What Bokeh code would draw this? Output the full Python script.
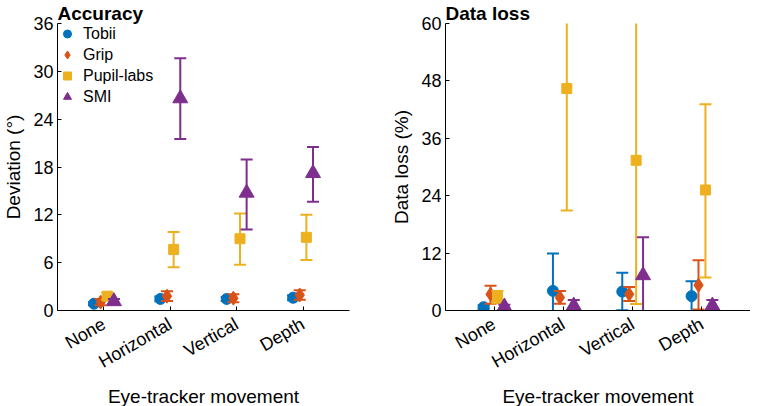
from bokeh.plotting import figure
from bokeh.layouts import row
from bokeh.models import ColumnDataSource, Range1d, FactorRange, FixedTicker, Title
from bokeh.transform import dodge
from bokeh.embed import file_html
from bokeh.resources import INLINE

# ---------------- data ----------------
movements = ["None", "Horizontal", "Vertical", "Depth"]
trackers = ["Tobii", "Grip", "Pupil-labs", "SMI"]
colors = ["#0072BD", "#D95319", "#EDB120", "#7E2F8E"]
markers = ["circle", "diamond", "square", "triangle"]
offsets = [-0.15, -0.05, 0.05, 0.15]

# Accuracy (deviation, deg): mean, lower CI, upper CI
acc_tobii = [0.85, 1.45, 1.45, 1.6]
acc_tobii_lo = [0.65, 1.15, 1.2, 1.3]
acc_tobii_hi = [1.05, 1.75, 1.7, 1.9]
acc_grip = [1.05, 1.8, 1.55, 1.95]
acc_grip_lo = [0.65, 1.2, 1.05, 1.35]
acc_grip_hi = [1.45, 2.4, 2.05, 2.55]
acc_pupil = [1.8, 7.66, 9.0, 9.18]
acc_pupil_lo = [1.35, 5.41, 5.74, 6.35]
acc_pupil_hi = [2.25, 9.84, 12.18, 12.0]
acc_smi = [1.15, 26.6, 14.76, 17.22]
acc_smi_lo = [0.85, 21.5, 10.17, 13.65]
acc_smi_hi = [1.45, 31.65, 18.95, 20.5]

# Data loss (%): mean, lower CI, upper CI
loss_tobii = [0.7, 4.1, 3.95, 3.0]
loss_tobii_lo = [0.3, -3.7, 0.05, -0.1]
loss_tobii_hi = [1.1, 11.9, 7.9, 6.1]
loss_grip = [3.4, 2.7, 3.4, 5.3]
loss_grip_lo = [1.4, 1.4, 2.0, 0.2]
loss_grip_hi = [5.2, 4.1, 4.9, 10.5]
loss_pupil = [2.8, 46.4, 31.4, 25.2]
loss_pupil_lo = [1.5, 20.9, 1.35, 6.9]
loss_pupil_hi = [4.1, 71.9, 61.5, 43.1]
loss_smi = [0.8, 1.0, 7.35, 1.0]
loss_smi_lo = [0.4, -0.2, -0.6, -0.2]
loss_smi_hi = [1.2, 2.2, 15.3, 2.2]

acc_ticks = [0, 6, 12, 18, 24, 30, 36]
loss_ticks = [0, 12, 24, 36, 48, 60]

acc_series = [(acc_tobii, acc_tobii_lo, acc_tobii_hi),
              (acc_grip, acc_grip_lo, acc_grip_hi),
              (acc_pupil, acc_pupil_lo, acc_pupil_hi),
              (acc_smi, acc_smi_lo, acc_smi_hi)]
loss_series = [(loss_tobii, loss_tobii_lo, loss_tobii_hi),
               (loss_grip, loss_grip_lo, loss_grip_hi),
               (loss_pupil, loss_pupil_lo, loss_pupil_hi),
               (loss_smi, loss_smi_lo, loss_smi_hi)]

FONT = "Liberation Sans"


def make_panel(title, ylabel, series, ymax, yticks, width, bl, br, legend):
    xr = FactorRange(factors=movements, range_padding=0.2,
                     range_padding_units="absolute")
    p = figure(x_range=xr, y_range=Range1d(0, ymax), width=width, height=406,
               output_backend="svg", toolbar_location=None,
               min_border_left=bl, min_border_right=br,
               min_border_top=16, min_border_bottom=93)
    p.title.text = title
    p.title.text_font = FONT
    p.title.text_font_size = "19px"
    p.title.text_font_style = "bold"
    p.title.text_color = "black"
    p.title.text_line_height = 0.8
    p.title.align = "left"
    p.title.standoff = 0
    p.outline_line_color = None
    p.xgrid.grid_line_color = None
    p.ygrid.grid_line_color = None
    p.background_fill_color = None
    p.border_fill_color = None

    for i, (mean, lo, hi) in enumerate(series):
        src = ColumnDataSource(dict(mv=movements, m=mean, lo=lo, hi=hi))
        xx = dodge("mv", offsets[i], range=xr)
        p.segment(x0=xx, y0="lo", x1=xx, y1="hi", source=src,
                  line_color=colors[i], line_width=2)
        p.scatter(x=xx, y="lo", source=src, marker="dash", size=12,
                  line_color=colors[i], line_width=2)
        p.scatter(x=xx, y="hi", source=src, marker="dash", size=12,
                  line_color=colors[i], line_width=2)
        size = {"circle": 11, "diamond": 14, "square": 10, "triangle": 15}[markers[i]]
        kw = dict(legend_label=trackers[i]) if legend else {}
        p.scatter(x=xx, y="m", source=src, marker=markers[i], size=size,
                  fill_color=colors[i], line_color=colors[i], **kw)

    for ax in (p.xaxis[0], p.yaxis[0]):
        ax.axis_line_color = "black"
        ax.axis_line_width = 1
        ax.major_tick_line_color = "black"
        ax.major_tick_in = 4
        ax.major_tick_out = 0
        ax.minor_tick_line_color = None
        ax.major_label_text_font = FONT
        ax.major_label_text_font_size = "18px"
        ax.major_label_text_color = "black"
        ax.axis_label_text_font = FONT
        ax.axis_label_text_font_size = "19px"
        ax.axis_label_text_font_style = "normal"
        ax.axis_label_text_color = "black"
    p.yaxis[0].ticker = FixedTicker(ticks=yticks)
    p.yaxis[0].axis_label = ylabel
    p.yaxis[0].major_label_standoff = 4
    p.yaxis[0].axis_label_standoff = 6
    p.xaxis[0].major_label_orientation = 0.5236
    p.xaxis[0].major_label_standoff = 12

    p.add_layout(Title(text="Eye-tracker movement", align="center",
                       text_font=FONT, text_font_size="19px",
                       text_font_style="normal", text_color="black",
                       text_line_height=0.8, standoff=0), "below")

    if legend:
        lg = p.legend[0]
        lg.location = "top_left"
        lg.border_line_alpha = 0
        lg.background_fill_alpha = 0
        lg.margin = 0
        lg.padding = 0
        lg.spacing = 0
        lg.glyph_width = 20
        lg.glyph_height = 21
        lg.label_height = 21
        lg.label_standoff = 6
        lg.label_text_font = FONT
        lg.label_text_font_size = "16px"
        lg.label_text_color = "black"
    return p


p1 = make_panel("Accuracy", "Deviation (°)", acc_series, 36, acc_ticks,
                387, 48, 38, True)
p2 = make_panel("Data loss", "Data loss (%)", loss_series, 60, loss_ticks,
                363, 58, 0, False)

layout = row(p1, p2)
open("out.html", "w").write(file_html(layout, INLINE))
